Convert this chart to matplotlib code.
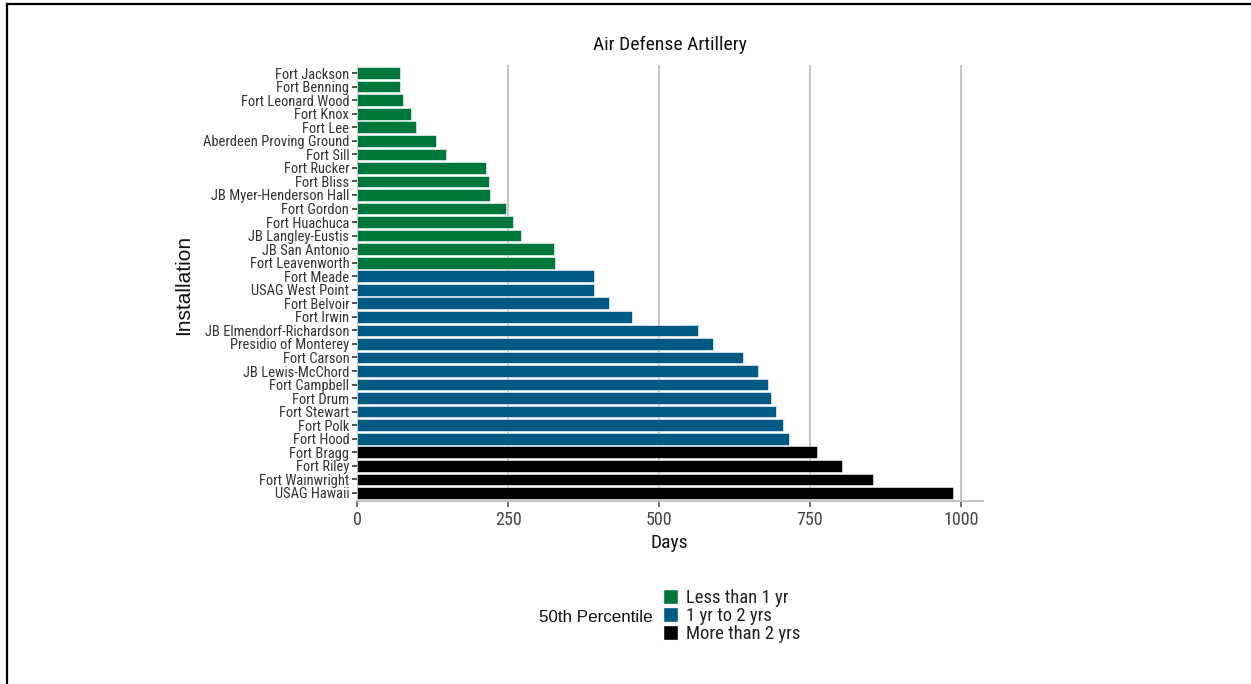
import matplotlib
matplotlib.use("Agg")
import matplotlib.pyplot as plt
from matplotlib import font_manager as fm
from matplotlib.patches import Patch
from matplotlib.lines import Line2D

installations = [
    "Fort Jackson", "Fort Benning", "Fort Leonard Wood", "Fort Knox", "Fort Lee",
    "Aberdeen Proving Ground", "Fort Sill", "Fort Rucker", "Fort Bliss",
    "JB Myer-Henderson Hall", "Fort Gordon", "Fort Huachuca", "JB Langley-Eustis",
    "JB San Antonio", "Fort Leavenworth", "Fort Meade", "USAG West Point",
    "Fort Belvoir", "Fort Irwin", "JB Elmendorf-Richardson", "Presidio of Monterey",
    "Fort Carson", "JB Lewis-McChord", "Fort Campbell", "Fort Drum", "Fort Stewart",
    "Fort Polk", "Fort Hood", "Fort Bragg", "Fort Riley", "Fort Wainwright", "USAG Hawaii",
]
days = [71, 71, 76, 89, 97, 130, 147, 214, 219, 221, 246, 258, 271, 326, 327,
        392, 392, 418, 455, 565, 589, 639, 664, 680, 685, 693, 705, 716,
        762, 803, 854, 987]
groups = ["Less than 1 yr"] * 15 + ["1 yr to 2 yrs"] * 13 + ["More than 2 yrs"] * 4
group_names = ["Less than 1 yr", "1 yr to 2 yrs", "More than 2 yrs"]
group_colors = {"Less than 1 yr": "#00773A", "1 yr to 2 yrs": "#005A84", "More than 2 yrs": "#000000"}
x_ticks = [0, 250, 500, 750, 1000]


def find_narrow():
    entries = fm.fontManager.ttflist
    normal_w = (400, "normal", "regular", "book", "Regular", "Normal")
    prefs = ["Liberation Sans Narrow", "Roboto Condensed", "Open Sans Condensed",
             "Noto Sans Condensed", "DejaVu Sans Condensed", "Arial Narrow"]
    for p in prefs:
        for e in entries:
            if e.name == p and e.style == "normal" and e.weight in normal_w:
                return fm.FontProperties(fname=e.fname)
    fams = ("DejaVu Sans", "Noto Sans", "Open Sans", "Roboto", "Lato", "Inter", "Liberation Sans")
    for f in fams:
        for e in entries:
            if (e.name == f and str(e.stretch) in ("condensed", "semi-condensed", "extra-condensed")
                    and e.style == "normal" and e.weight in normal_w):
                return fm.FontProperties(fname=e.fname)
    return fm.FontProperties(family=["Roboto", "DejaVu Sans"])


narrow = find_narrow()
regular = fm.FontProperties(family=["Liberation Sans", "DejaVu Sans"])

W, H = 1251, 684
fig = plt.figure(figsize=(W / 100, H / 100), dpi=100)
renderer = fig.canvas.get_renderer()


def fitted(prop, text, target_px, max_size=20):
    p = prop.copy()
    p.set_size(10)
    t = fig.text(0, 0, text, fontproperties=p)
    w = t.get_window_extent(renderer).width
    t.remove()
    p2 = prop.copy()
    p2.set_size(min(max_size, 10 * target_px / w))
    return p2


ytick_prop = fitted(narrow, "Aberdeen Proving Ground", 146, 11.5)
xtick_prop = fitted(narrow, "1000", 37, 13)
title_prop = fitted(narrow, "Air Defense Artillery", 164, 14)
xlab_prop = fitted(narrow, "Days", 40, 14)
leg_prop = fitted(narrow, "More than 2 yrs", 114, 13.5)
ylab_prop = fitted(regular, "Installation", 100, 15)
legtitle_prop = fitted(regular, "50th Percentile", 114, 13.5)

ax = fig.add_axes([357 / W, 1 - 501 / H, (983 - 357) / W, (501 - 65) / H])

ypos = list(range(len(installations)))
ax.barh(ypos, days, height=0.86, color=[group_colors[g] for g in groups],
        edgecolor="white", linewidth=0.4, zorder=3)
ax.set_ylim(len(installations) - 0.4, -0.6)
ax.set_xlim(0, max(days) * 1.05)
ax.set_yticks(ypos)
ax.set_yticklabels(installations)
for lab in ax.get_yticklabels():
    lab.set_fontproperties(ytick_prop)
    lab.set_color("#333333")
ax.set_xticks(x_ticks)
ax.set_xticklabels([str(t) for t in x_ticks])
for lab in ax.get_xticklabels():
    lab.set_fontproperties(xtick_prop)
    lab.set_color("#444444")
ax.tick_params(axis="y", length=3.5, width=1.2, color="#333333", pad=2)
ax.tick_params(axis="x", length=4, width=1.2, color="#555555", pad=3)
for t in x_ticks:
    ax.axvline(t, color="#c4c4c4", lw=1.4, zorder=1)
for s in ["top", "right", "left"]:
    ax.spines[s].set_visible(False)
ax.spines["bottom"].set_color("#c4c4c4")
ax.spines["bottom"].set_linewidth(1.4)

ax.set_title("Air Defense Artillery", fontproperties=title_prop, color="#111111", pad=11)
ax.set_xlabel("Days", fontproperties=xlab_prop, color="#111111")
ax.xaxis.set_label_coords((669 - 357) / (983 - 357), -(534 - 501) / (501 - 65))
ax.set_ylabel("Installation", fontproperties=ylab_prop, color="#111111")
ax.yaxis.set_label_coords(-(357 - 193) / (983 - 357), (501 - 285) / (501 - 65))

handles = [Patch(facecolor=group_colors[g], edgecolor="white", label=g) for g in group_names]
leg = fig.legend(handles=handles, loc="upper left", bbox_to_anchor=(663 / W, 1 - 589 / H),
                 frameon=False, handlelength=0.8, handleheight=0.85, handletextpad=0.45,
                 labelspacing=0.0, borderpad=0, borderaxespad=0, prop=leg_prop)
for t in leg.get_texts():
    t.set_color("#222222")
fig.text(653 / W, 1 - 617 / H, "50th Percentile", ha="right", va="center",
         fontproperties=legtitle_prop, color="#111111")

# outer frame
fig.add_artist(Line2D([7 / W, 7 / W], [0, 1 - 4 / H], transform=fig.transFigure,
                      color="black", lw=1.6))
fig.add_artist(Line2D([7 / W, 1], [1 - 4 / H, 1 - 4 / H], transform=fig.transFigure,
                      color="black", lw=1.6))

fig.savefig("out.png", dpi=100, facecolor="white")
